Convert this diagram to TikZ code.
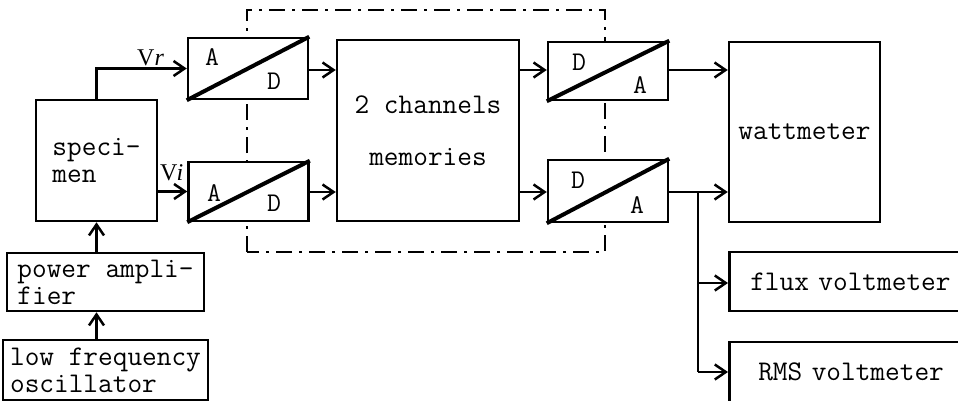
\documentclass[tikz,border=0pt]{standalone}
\usepackage{fontspec}
\newfontfamily\vfont{Liberation Serif}
\usetikzlibrary{arrows.meta}
\tikzset{
  box/.style={draw, line width=2.5pt, fill=white, inner sep=0pt, font=\ttfamily\fontsize{28.5}{27}\selectfont},
  conv/.style={draw, line width=2.5pt, fill=white, inner sep=0pt, minimum width=120pt, minimum height=60pt},
  diag/.style={line width=4pt},
  lett/.style={font=\ttfamily\fontsize{27}{27}\selectfont, inner sep=0pt},
  wire/.style={line width=2.5pt},
  arr/.style={line width=2.5pt, -{Straight Barb[length=11pt,width=15pt,line width=2.5pt]}},
  dashbox/.style={line width=2.5pt, dash pattern=on 16pt off 7pt on 3pt off 7pt},
  sig/.style={font=\vfont\fontsize{24}{24}\selectfont, inner sep=0pt, anchor=base west}
}
\begin{document}
\begin{tikzpicture}[x=1pt,y=-1pt]
\useasboundingbox (0,0) rectangle (958,401);
\clip (0,0) rectangle (958,401);
% dash-dot frame
\draw[dashbox] (247,252) -- (247,10) -- (605,10) -- (605,252) -- cycle;
% main blocks
\node[box, minimum width=121pt, minimum height=121pt, align=left] (spec) at (96.5,160.5) {speci-\\men};
\node[box, minimum width=182pt, minimum height=181pt, align=center] (mem) at (428,130.5) {2 channels\\[25pt]memories};
\node[box, minimum width=151pt, minimum height=180pt] (watt) at (804.5,132) {wattmeter};
\node[box, minimum width=197pt, minimum height=58pt, align=left] (pamp) at (105.5,282) {power ampli-\\fier};
\node[box, minimum width=205pt, minimum height=60pt, align=left] (osc) at (105.5,370) {low frequency\\oscillator};
\node[box, minimum width=250pt, minimum height=59pt, anchor=west, text width=236pt, align=left] (flux) at (728,281.5) {\hspace*{14pt}flux voltmeter};
\node[box, minimum width=250pt, minimum height=60pt, anchor=west, text width=236pt, align=left] (rms) at (728,372) {\hspace*{22pt}RMS voltmeter};
% converters
\node[conv, minimum height=61pt] (ad1) at (248,68.5) {};
\node[conv, minimum height=59pt] (ad2) at (248.5,191.5) {};
\node[conv, minimum height=58pt] (da1) at (608,71) {};
\node[conv, minimum height=62pt] (da2) at (608,191) {};
\draw[diag] (ad1.south west) -- (ad1.north east);
\draw[diag] (ad2.south west) -- (ad2.north east);
\draw[diag] (da1.south west) -- (da1.north east);
\draw[diag] (da2.south west) -- (da2.north east);
\node[lett] (ad1a) at (212,57) {A};
\node[lett] (ad1d) at (274,81) {D};
\node[lett] (ad2a) at (214,193) {A};
\node[lett] (ad2d) at (274,203) {D};
\node[lett] (da1d) at (579,62) {D};
\node[lett] (da1a) at (640,85) {A};
\node[lett] (da2d) at (578,180) {D};
\node[lett] (da2a) at (637,205) {A};
% signal labels
\node[sig] (vr) at (137,66) {V\textit{r}};
\node[sig] (vi) at (160,180) {V\kern-1pt\textit{i}};
% connectors
\draw[arr] (spec.north) |- (ad1.west);
\draw[arr] (spec.east |- ad2.west) -- (ad2.west);
\draw[arr] (ad1.east |- 0,70) -- (mem.west |- 0,70);
\draw[arr] (ad2.east |- 0,192) -- (mem.west |- 0,192);
\draw[arr] (mem.east |- 0,70) -- (da1.west |- 0,70);
\draw[arr] (mem.east |- 0,192) -- (da2.west |- 0,192);
\draw[arr] (da1.east |- 0,70) -- (watt.west |- 0,70);
\draw[arr] (da2.east |- 0,192) -- (watt.west |- 0,192);
\coordinate (j) at (698,192);
\draw[wire] (j) -- (698,372);
\draw[arr] (698,283) -- (flux.west |- 0,283);
\draw[arr] (698,372) -- (rms.west |- 0,372);
\draw[arr] (pamp.north -| spec.south) -- (spec.south);
\draw[arr] (osc.north -| spec.south) -- (pamp.south -| spec.south);
\end{tikzpicture}
\end{document}
